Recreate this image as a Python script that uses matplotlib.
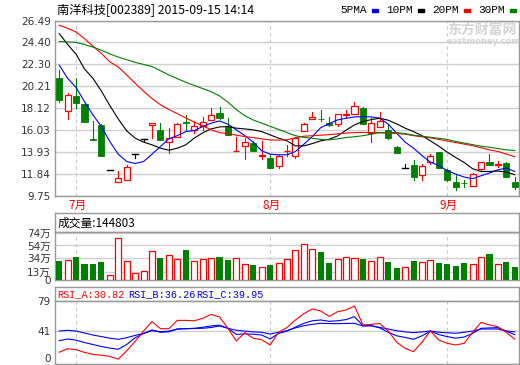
import matplotlib
matplotlib.use("Agg")
import matplotlib.pyplot as plt
import matplotlib.transforms as mtransforms
from matplotlib.patches import Rectangle

plt.rcParams['font.family'] = ['DejaVu Sans', 'Noto Sans CJK SC']

# 南洋科技 daily K-line, 2015-06-29 .. 2015-09-15 (55 trading days)
opens = [20.97, 17.86, 19.29, 18.50, 15.20, 16.53, 12.25, 11.06, 11.30, 13.79,
         15.17, 16.50, 16.06, 14.94, 15.42, 16.84, 16.06, 16.46, 17.04, 17.70,
         16.37, 14.00, 14.56, 14.80, 13.60, 13.36, 12.63, 14.00, 13.61, 15.96,
         17.08, 17.12, 16.72, 16.60, 17.50, 17.60, 18.12, 15.74, 16.34, 16.06,
         14.47, 12.46, 12.66, 11.78, 12.95, 13.90, 12.25, 11.04, 10.99, 10.70,
         12.35, 12.98, 12.70, 12.89, 11.08]
highs = [21.75, 19.57, 20.97, 18.65, 16.91, 16.60, 12.25, 12.16, 12.66, 13.79,
         15.17, 16.69, 16.72, 16.27, 16.70, 17.50, 16.91, 17.32, 18.12, 18.27,
         17.17, 15.42, 15.27, 15.00, 14.95, 13.74, 13.65, 14.63, 15.40, 16.70,
         17.80, 18.00, 17.26, 17.60, 17.93, 18.75, 18.20, 17.23, 17.80, 16.60,
         14.50, 12.82, 13.20, 12.80, 13.74, 13.95, 12.35, 11.84, 11.30, 11.90,
         13.00, 13.80, 13.10, 13.04, 11.52]
lows = [18.75, 17.07, 18.18, 16.79, 15.10, 13.52, 12.25, 11.06, 11.30, 13.36,
        14.95, 15.27, 15.08, 13.84, 15.40, 16.00, 15.80, 16.06, 17.00, 17.10,
        15.55, 14.00, 13.30, 14.00, 13.30, 12.40, 12.41, 13.55, 13.42, 15.96,
        17.08, 16.91, 16.41, 16.41, 17.23, 17.55, 16.60, 14.89, 16.30, 15.20,
        13.84, 12.46, 11.30, 11.30, 12.80, 12.41, 11.15, 10.28, 10.60, 10.70,
        12.09, 12.70, 12.50, 11.60, 10.45]
closes = [18.91, 19.38, 18.60, 16.79, 15.13, 13.61, 12.25, 11.46, 12.54, 13.79,
          15.17, 16.69, 15.08, 15.30, 16.63, 16.67, 16.44, 16.79, 17.48, 17.17,
          15.58, 14.08, 14.89, 14.00, 13.65, 12.41, 13.61, 14.05, 15.33, 16.60,
          17.27, 17.05, 16.53, 17.55, 17.60, 18.31, 16.60, 16.69, 16.91, 15.33,
          13.84, 12.46, 11.61, 12.57, 13.61, 12.41, 11.23, 10.63, 10.95, 11.84,
          12.98, 12.73, 12.82, 11.61, 10.57]

ma5 = [22.23, 20.97, 20.10, 18.75, 17.48, 16.37, 14.94, 13.74, 13.04, 12.85,
       13.04, 13.74, 14.47, 15.20, 15.51, 15.89, 15.99, 16.37, 16.69, 16.91,
       16.60, 16.06, 15.51, 14.89, 14.06, 13.74, 13.68, 13.68, 13.99, 14.69,
       15.42, 16.27, 16.65, 17.01, 17.17, 17.29, 17.32, 17.29, 17.17, 16.60,
       15.74, 14.89, 14.31, 13.61, 12.98, 12.66, 12.16, 11.84, 11.56, 11.40,
       11.68, 11.94, 12.25, 12.41, 12.09]
ma10 = [25.25, 24.20, 23.28, 21.86, 20.97, 19.76, 18.37, 17.10, 15.96, 15.27,
        14.89, 14.63, 14.31, 14.12, 14.31, 14.63, 15.27, 15.77, 16.15, 16.34,
        16.37, 16.22, 16.15, 16.06, 15.89, 15.58, 15.27, 15.01, 14.53, 14.53,
        14.75, 15.01, 15.17, 15.48, 16.03, 16.53, 16.85, 17.04, 17.17, 16.98,
        16.63, 16.22, 15.89, 15.51, 15.01, 14.50, 13.93, 13.42, 12.95, 12.35,
        12.09, 12.09, 12.13, 12.03, 11.78]
ma20 = [26.04, 25.75, 25.40, 24.75, 24.05, 23.35, 22.55, 22.05, 21.30, 20.50,
        19.75, 19.05, 18.45, 18.00, 17.60, 17.20, 16.80, 16.45, 16.06, 15.80,
        15.70, 15.55, 15.42, 15.32, 15.20, 15.10, 15.08, 15.12, 15.30, 15.45,
        15.50, 15.55, 15.60, 15.68, 15.75, 15.80, 15.82, 15.80, 15.78, 15.74,
        15.70, 15.65, 15.50, 15.40, 15.30, 15.15, 15.00, 14.85, 14.70, 14.55,
        14.35, 14.15, 14.00, 13.75, 13.50]
ma30 = [24.49, 24.45, 24.40, 24.20, 23.95, 23.66, 23.30, 23.00, 22.75, 22.50,
        22.30, 22.10, 21.70, 21.30, 20.95, 20.60, 20.30, 20.00, 19.70, 19.30,
        18.70, 18.00, 17.40, 17.00, 16.70, 16.40, 16.10, 15.80, 15.50, 15.35,
        15.25, 15.15, 15.10, 15.20, 15.33, 15.40, 15.50, 15.65, 15.80, 15.80,
        15.80, 15.70, 15.55, 15.45, 15.35, 15.25, 15.15, 14.95, 14.80, 14.65,
        14.50, 14.40, 14.28, 14.15, 14.09]

# 成交量, 万
volume = [29.5, 31.0, 35.5, 24.8, 24.8, 28.4, 8.8, 66.0, 29.5, 11.9,
          14.0, 45.4, 35.2, 39.3, 33.6, 46.5, 29.5, 32.3, 34.0, 36.7,
          31.0, 35.2, 25.9, 24.3, 20.6, 23.3, 27.4, 32.6, 47.6, 55.8,
          49.0, 43.4, 27.4, 33.6, 36.2, 34.6, 32.6, 29.5, 36.2, 28.4,
          19.1, 20.2, 30.0, 28.4, 31.0, 26.9, 25.9, 22.2, 26.9, 24.8,
          36.7, 40.3, 24.8, 28.4, 20.2]

rsi_a = [14.2, 18.7, 17.5, 14.0, 11.5, 10.5, 9.0, 5.5, 16.0, 28.0,
         41.0, 53.0, 44.0, 44.0, 54.5, 54.5, 54.0, 57.0, 62.0, 59.0,
         44.5, 28.5, 39.0, 32.0, 30.0, 23.4, 39.4, 45.5, 55.0, 63.0,
         68.9, 66.4, 59.5, 65.5, 67.6, 72.7, 48.7, 49.5, 50.5, 41.0,
         27.0, 19.2, 15.0, 27.0, 41.0, 29.7, 25.5, 23.4, 25.5, 39.4,
         52.0, 48.7, 46.5, 39.4, 30.8]
rsi_b = [28.8, 31.0, 29.5, 26.5, 24.0, 21.5, 19.5, 18.0, 24.0, 32.5,
         38.0, 42.4, 39.5, 40.0, 43.6, 44.0, 44.5, 45.8, 47.5, 48.5,
         44.5, 36.7, 37.5, 37.0, 36.0, 31.0, 38.0, 41.0, 46.0, 50.8,
         54.0, 55.0, 53.3, 54.0, 55.5, 59.2, 47.8, 47.8, 45.0, 39.4,
         35.0, 33.0, 30.6, 35.0, 41.0, 36.5, 34.0, 32.0, 33.5, 38.0,
         44.5, 45.0, 45.3, 41.0, 36.3]
rsi_c = [41.1, 42.0, 41.0, 38.5, 36.0, 34.0, 32.0, 30.6, 32.6, 35.5,
         38.0, 41.5, 40.2, 41.0, 43.6, 44.0, 44.2, 44.5, 45.5, 47.4,
         44.5, 42.0, 41.0, 40.0, 39.4, 37.3, 39.5, 41.5, 45.0, 47.8,
         49.5, 50.8, 50.5, 50.4, 50.6, 50.8, 47.4, 47.8, 45.5, 43.6,
         41.5, 40.0, 39.0, 40.0, 41.1, 39.5, 38.8, 38.2, 39.5, 41.0,
         43.6, 43.6, 43.6, 41.0, 40.0]

price_ticks = [9.75, 11.84, 13.93, 16.03, 18.12, 20.21, 22.30, 24.40, 26.49]
vol_ticks = [0, 13.5, 34, 54, 74]
vol_labels = ["0", "13万", "34万", "54万", "74万"]
rsi_ticks = [0, 41, 79]
month_starts = [2, 25, 46]
month_labels = ["7月", "8月", "9月"]

W, H = 520, 365
RED, GREEN, BLUE = "#ff0000", "#008000", "#0000ff"
BORDER, GRID, DASH = "#999999", "#d0d0d0", "#c8c8c8"
CJK = ['Noto Sans CJK SC', 'DejaVu Sans']
MONO = ['Liberation Mono', 'DejaVu Sans']


def rect(x0, y0, x1, y1):
    # pixel box -> figure fraction
    return [x0 / W, 1 - y1 / H, (x1 - x0) / W, (y1 - y0) / H]


def style(ax):
    for s in ax.spines.values():
        s.set_color(BORDER)
        s.set_linewidth(1)
    ax.tick_params(length=0, pad=3, labelsize=7.5, colors="#333333")
    ax.set_xticks([])
    ax.set_xlim(-0.5, 54.5)


fig = plt.figure(figsize=(W / 100, H / 100), dpi=100)
n = len(closes)

# ---- price panel
ax = fig.add_axes(rect(55, 20.5, 519, 196))
style(ax)
ax.set_ylim(price_ticks[0], price_ticks[-1])
ax.set_yticks(price_ticks)
ax.set_yticklabels(["%.2f" % t for t in price_ticks])
ax.grid(axis="y", color=GRID, lw=1)
for m in month_starts:
    ax.axvline(m, color=DASH, ls=(0, (3, 3)), lw=0.8)

w = 0.72
for i in range(n):
    o, h, l, c = opens[i], highs[i], lows[i], closes[i]
    if o == c:
        ax.plot([i, i], [l, h], color="black", lw=0.8, zorder=3)
        ax.plot([i - w / 2, i + w / 2], [o, o], color="black", lw=1, zorder=3)
    elif c > o:
        ax.plot([i, i], [c, h], color=RED, lw=0.8, zorder=3)
        ax.plot([i, i], [l, o], color=RED, lw=0.8, zorder=3)
        ax.add_patch(Rectangle((i - w / 2, o), w, c - o, facecolor="white",
                               edgecolor=RED, lw=0.9, zorder=3))
    else:
        ax.plot([i, i], [l, h], color=GREEN, lw=0.8, zorder=3)
        ax.add_patch(Rectangle((i - w / 2, c), w, o - c, facecolor=GREEN,
                               edgecolor=GREEN, lw=0.6, zorder=3))

x = list(range(n))
ax.plot(x, ma5, color=BLUE, lw=0.8, zorder=4)
ax.plot(x, ma10, color="black", lw=0.8, zorder=4)
ax.plot(x, ma20, color=RED, lw=0.8, zorder=4)
ax.plot(x, ma30, color=GREEN, lw=0.8, zorder=4)

trans = mtransforms.blended_transform_factory(ax.transData, ax.transAxes)
for m, lab in zip(month_starts, month_labels):
    ax.text(m + 0.2, -0.053, lab, transform=trans, color=RED, fontsize=8.5,
            ha="center", va="center", family=CJK)

# watermark
fig.text(447 / W, 1 - 30 / H, "东方财富网", color="#d4d4d4", fontsize=10,
         fontweight="bold", va="center", family=CJK)
fig.text(447 / W, 1 - 41.5 / H, "eastmoney.com", color="#d4d4d4", fontsize=6,
         fontweight="bold", va="center")

# title + legend
fig.text(57 / W, 1 - 10 / H, "南洋科技[002389] 2015-09-15 14:14", fontsize=8.8,
         va="center", family=CJK)
for xl, lab, col in [(340, "5PMA", BLUE), (386, "10PM", "black"),
                     (432, "20PM", RED), (478, "30PM", GREEN)]:
    fig.text(xl / W, 1 - 10 / H, lab, fontsize=8, va="center", family=MONO)
    fig.add_artist(Rectangle(((xl + 32) / W, 1 - 11.5 / H), 6 / W, 3 / H,
                             transform=fig.transFigure, color=col))

# ---- volume panel
axh = fig.add_axes(rect(55, 213.3, 519, 232.3))
style(axh)
axh.set_yticks([])
axh.text(0.005, 0.5, "成交量:144803", transform=axh.transAxes, fontsize=8.5,
         va="center", family=CJK)

axv = fig.add_axes(rect(55, 232.3, 519, 280.3))
style(axv)
axv.set_ylim(0, 74.4)
axv.set_yticks(vol_ticks)
axv.set_yticklabels(vol_labels)
axv.grid(axis="y", color=GRID, lw=1)
for m in month_starts:
    axv.axvline(m, color=DASH, ls=(0, (3, 3)), lw=0.8)
for i in range(n):
    if closes[i] >= opens[i]:
        axv.bar(i, volume[i], width=w, facecolor="white", edgecolor=RED,
                lw=0.9, zorder=3)
    else:
        axv.bar(i, volume[i], width=w, color=GREEN, zorder=3)

# ---- RSI panel
axr_h = fig.add_axes(rect(55, 287.3, 519, 301))
style(axr_h)
axr_h.set_yticks([])
for xl, lab, col in [(57, "RSI_A:30.82", RED), (128, "RSI_B:36.26", BLUE),
                     (196, "RSI_C:39.95", BLUE)]:
    fig.text(xl / W, 1 - 294.5 / H, lab, color=col, fontsize=7.3, va="center",
             family=MONO)

axr = fig.add_axes(rect(55, 301, 519, 363.5))
style(axr)
axr.set_ylim(0, 79)
axr.set_yticks(rsi_ticks)
axr.grid(axis="y", color=GRID, lw=1)
axr.get_yticklabels()[0].set_va("bottom")
for m in month_starts:
    axr.axvline(m, color=DASH, ls=(0, (3, 3)), lw=0.8)
axr.plot(x, rsi_c, color=BLUE, lw=0.8)
axr.plot(x, rsi_b, color=BLUE, lw=0.8)
axr.plot(x, rsi_a, color=RED, lw=0.8)

fig.savefig("out.png", dpi=100)
